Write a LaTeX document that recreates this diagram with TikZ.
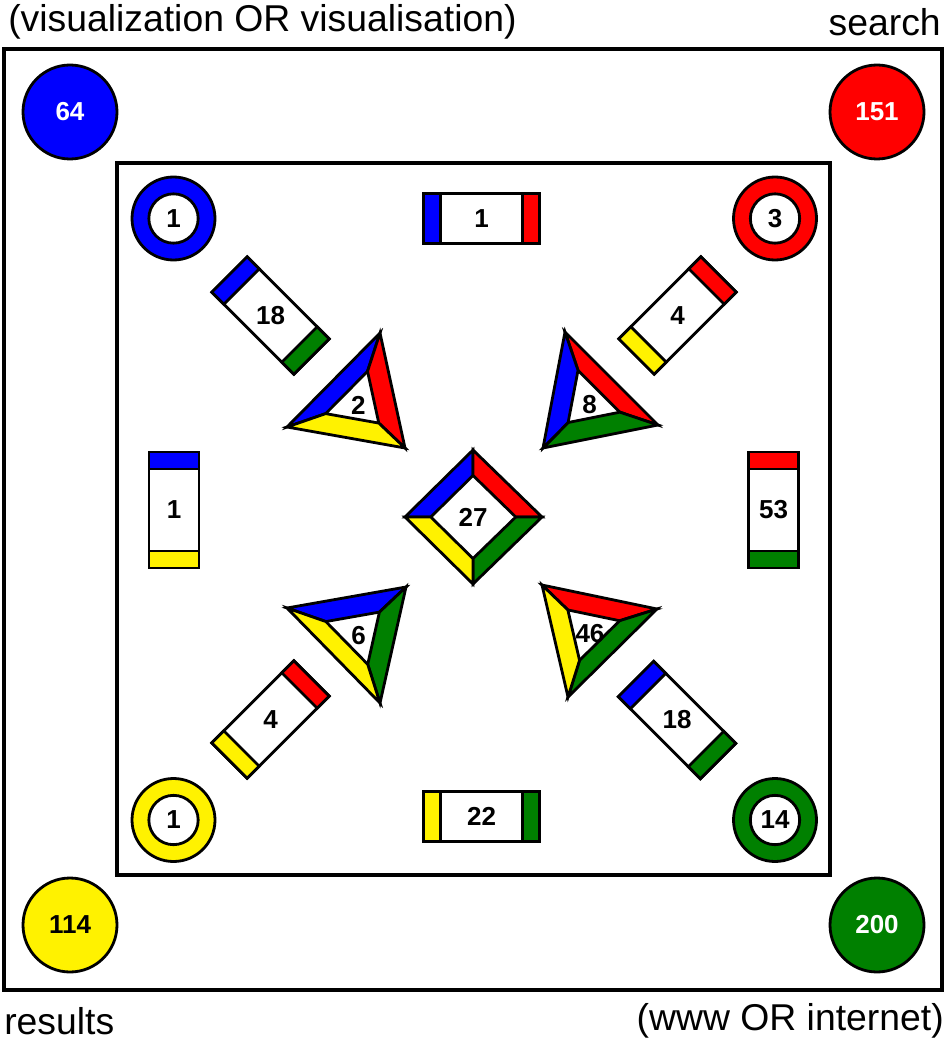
\documentclass[tikz,border=0pt]{standalone}
\usepackage{fontspec}
\setmainfont{Liberation Sans}
\usetikzlibrary{calc}

\definecolor{vgreen}{RGB}{0,128,0}

% bar with coloured ends: centre, angle, left end, right end, name, count
\newcommand{\pairbar}[6]{%
  \begin{scope}[shift={#1}, rotate=#2]
    \draw[edge, fill=white] (-58,-25) rectangle (58,25);
    \draw[edge, fill=#3] (-58,-25) rectangle (-41,25);
    \draw[edge, fill=#4] (41,-25) rectangle (58,25);
  \end{scope}
  \node[num] (#5) at #1 {#6};}

% triangle frame: corners a b c, colours of ab bc ca, name, count
\newcommand{\triframe}[8]{%
  \coordinate (#7a) at #1;
  \coordinate (#7b) at #2;
  \coordinate (#7c) at #3;
  \coordinate (#7m) at (barycentric cs:#7a=1,#7b=1,#7c=1);
  \coordinate (#7ai) at ($(#7m)!0.45!(#7a)$);
  \coordinate (#7bi) at ($(#7m)!0.45!(#7b)$);
  \coordinate (#7ci) at ($(#7m)!0.45!(#7c)$);
  \draw[edge, fill=#4] (#7a) -- (#7b) -- (#7bi) -- (#7ai) -- cycle;
  \draw[edge, fill=#5] (#7b) -- (#7c) -- (#7ci) -- (#7bi) -- cycle;
  \draw[edge, fill=#6] (#7c) -- (#7a) -- (#7ai) -- (#7ci) -- cycle;
  \node[num] (#7) at ($(#7m)+(1,3)$) {#8};}

\begin{document}
\begin{tikzpicture}[
  x=0.75pt, y=-0.75pt,
  edge/.style={draw=black, line width=2.1pt},
  frame/.style={draw=black, line width=2.3pt},
  num/.style={font=\bfseries\fontsize{19.5}{22}\selectfont, inner sep=1pt},
  term/.style={font=\fontsize{28}{32}\selectfont, inner sep=0pt},
  bigdot/.style={circle, draw=black, line width=2.1pt, minimum size=70.5pt, inner sep=0pt, font=\bfseries\fontsize{19.5}{22}\selectfont},
  ring/.style={circle, draw=black, line width=2.1pt, fill=white, minimum size=37pt, inner sep=0pt, font=\bfseries\fontsize{19.5}{22}\selectfont}
]
\useasboundingbox (0,0) rectangle (946,1041);

% frames
\draw[frame] (4,49) rectangle (942,990);
\draw[frame] (117,163) rectangle (830,875);

% search terms
\node[term, anchor=west] (tvis) at (8,22) {(visualization OR visualisation)};
\node[term, anchor=east] (tsearch) at (941,22) {search};
\node[term, anchor=west] (tres) at (4,1021) {results};
\node[term, anchor=east] (twww) at (944,1021) {(www OR internet)};

% single term totals
\node[bigdot, fill=blue, text=white] (cvis) at (70,112) {64};
\node[bigdot, fill=red, text=white] (csearch) at (877,112) {151};
\node[bigdot, fill=yellow, text=black] (cres) at (70,925) {114};
\node[bigdot, fill=vgreen, text=white] (cwww) at (877,925) {200};

% rings
\draw[edge, fill=blue] (173.5,218.5) circle[radius=41.5];
\node[ring] (rvis) at (173.5,218.5) {1};
\draw[edge, fill=red] (775,218.5) circle[radius=41.5];
\node[ring] (rsearch) at (775,218.5) {3};
\draw[edge, fill=yellow] (173.5,820) circle[radius=41.5];
\node[ring] (rres) at (173.5,820) {1};
\draw[edge, fill=vgreen] (775,820) circle[radius=41.5];
\node[ring] (rwww) at (775,820) {14};

% pairs
\pairbar{(481.5,218.5)}{0}{blue}{red}{bvs}{1}
\pairbar{(481.5,816.5)}{0}{yellow}{vgreen}{brw}{22}
\pairbar{(174,510)}{-90}{blue}{yellow}{bvr}{1}
\pairbar{(773.5,510)}{-90}{red}{vgreen}{bsw}{53}
\pairbar{(270.5,315.5)}{-45}{blue}{vgreen}{bvw}{18}
\pairbar{(677.5,315.5)}{45}{yellow}{red}{bsr}{4}
\pairbar{(270.5,719.5)}{45}{yellow}{red}{brs}{4}
\pairbar{(677,720)}{-45}{blue}{vgreen}{bwv}{18}

% triples
\triframe{(287,427)}{(380,333)}{(405,448)}{blue}{red}{yellow}{tvsr}{2}
\triframe{(565,332)}{(658,425)}{(543,448)}{red}{vgreen}{blue}{tvsw}{8}
\triframe{(287,608)}{(406,587)}{(380,703)}{blue}{vgreen}{yellow}{tvrw}{6}
\triframe{(542,585)}{(657,609)}{(568,697)}{red}{vgreen}{yellow}{tsrw}{46}

% all four
\coordinate (dt) at (473,450);
\coordinate (dr) at (542,517);
\coordinate (db) at (473,584);
\coordinate (dl) at (405,517);
\coordinate (dm) at (473,517);
\coordinate (dti) at ($(dm)!0.62!(dt)$);
\coordinate (dri) at ($(dm)!0.62!(dr)$);
\coordinate (dbi) at ($(dm)!0.62!(db)$);
\coordinate (dli) at ($(dm)!0.62!(dl)$);
\draw[edge, fill=blue] (dl) -- (dt) -- (dti) -- (dli) -- cycle;
\draw[edge, fill=red] (dt) -- (dr) -- (dri) -- (dti) -- cycle;
\draw[edge, fill=vgreen] (dr) -- (db) -- (dbi) -- (dri) -- cycle;
\draw[edge, fill=yellow] (db) -- (dl) -- (dli) -- (dbi) -- cycle;
\node[num] (dall) at (dm) {27};

\end{tikzpicture}
\end{document}
